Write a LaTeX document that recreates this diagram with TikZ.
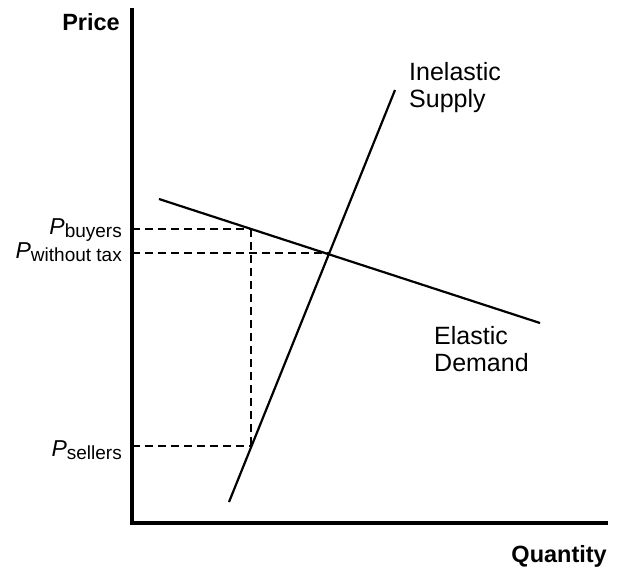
\documentclass[tikz,border=0pt]{standalone}
\usepackage{fontspec}
\setmainfont{Liberation Sans}
\newcommand\pricelabel[1]{{\fontsize{23}{23}\selectfont\itshape P}\raisebox{-3pt}{\fontsize{19}{20}\selectfont #1}}
\begin{document}
\begin{tikzpicture}[x=1pt,y=-1pt,
  axis/.style={line width=3.2pt, line join=miter},
  curve/.style={line width=2.2pt},
  guide/.style={line width=2pt, dash pattern=on 8pt off 5pt},
  curvelbl/.style={inner sep=0pt, font=\fontsize{25}{27}\selectfont, align=left, anchor=base west},
  axislbl/.style={inner sep=0pt, font=\fontsize{23.5}{23.5}\selectfont\bfseries, anchor=base east},
  plbl/.style={inner sep=0pt, anchor=base east}]
\useasboundingbox (0,0) rectangle (624,571);

% axes
\coordinate (origin) at (132,523);
\coordinate (ytop) at (132,8);
\coordinate (xend) at (608,523);
\draw[axis] (ytop) -- (origin) -- (xend);
\node[axislbl] (price) at (120,30) {Price};
\node[axislbl] (quantity) at (607,562) {Quantity};

% supply and demand
\coordinate (s0) at (229,502);
\coordinate (s1) at (395,90);
\coordinate (d0) at (159,199);
\coordinate (d1) at (540,323);
\draw[curve] (s0) -- (s1);
\draw[curve] (d0) -- (d1);

% prices with and without the tax
\coordinate (buy) at (251,229);
\coordinate (sell) at (251,446);
\coordinate (eq) at (329,253);
\draw[guide] (origin |- buy) -- (buy);
\draw[guide] (origin |- eq) -- (eq);
\draw[guide] (origin |- sell) -- (sell);
\draw[guide] (buy) -- (sell);

\node[plbl] (pbuyers) at (122,234) {\pricelabel{buyers}};
\node[plbl] (pnotax) at (122,258) {\pricelabel{without tax}};
\node[plbl] (psellers) at (122,456) {\pricelabel{sellers}};

% curve labels (anchored on the baseline of their second line)
\node[curvelbl] (supplylbl) at (409,107) {Inelastic\\Supply};
\node[curvelbl] (demandlbl) at (434,371) {Elastic\\Demand};
\end{tikzpicture}
\end{document}
